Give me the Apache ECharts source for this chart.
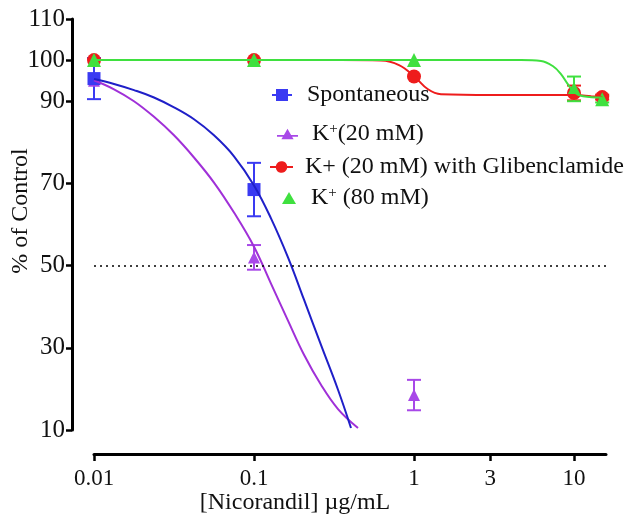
<!DOCTYPE html>
<html><head><meta charset="utf-8">
<script src="https://cdn.jsdelivr.net/npm/echarts@6/dist/echarts.min.js"></script>
<style>html,body{margin:0;padding:0;background:#fff}#c{width:629px;height:514px}</style>
</head><body><div id="c"></div>
<script>
// ---- tick labels ----
const xTickValues = [0.01, 0.1, 1, 3, 10];
const xTickLabels = ['0.01', '0.1', '1', '3', '10'];
const yTickValues = [10, 30, 50, 70, 90, 100, 110];

// ---- measured points (mean, SEM) ----
const spontX = [0.01, 0.1];
const spontY = [95.5, 68.5];
const spontErr = [5, 6.5];

const k20X = [0.01, 0.1, 1];
const k20Y = [95, 52, 18.5];
const k20Err = [0, 3, 3.7];

const glibX = [0.01, 0.1, 1, 10, 15];
const glibY = [100, 100, 96, 92, 91];
const glibErr = [0, 0, 0, 1.8, 0.6];

const k80X = [0.01, 0.1, 1, 10, 15];
const k80Y = [100, 100, 100, 93, 90.5];
const k80Err = [0, 0, 0, 3, 0.8];

// ---- fitted curves ----
const spontCurveX = [0.01, 0.01334, 0.01778, 0.02371, 0.03162, 0.04217, 0.05623, 0.07499, 0.1, 0.1277, 0.1631, 0.2054, 0.2622, 0.335, 0.4038];
const spontCurveY = [95.4, 94.2, 92.7, 90.9, 88.5, 85.6, 81.7, 76.6, 69.5, 61.5, 52.0, 41.7, 30.7, 19.8, 10.5];

const k20CurveX = [0.01, 0.01334, 0.01778, 0.02371, 0.03162, 0.04217, 0.05623, 0.07499, 0.1, 0.1277, 0.1631, 0.2054, 0.2622, 0.335, 0.4467];
const k20CurveY = [95.1, 92.9, 90.0, 86.2, 81.7, 76.3, 70.2, 62.9, 54.6, 45.6, 36.6, 28.3, 21.0, 15.1, 10.5];

const glibCurveX = [0.01, 0.35, 0.622, 0.806, 1, 1.223, 1.475, 3.03, 10.29, 12.8, 15];
const glibCurveY = [100, 100, 99.9, 98.8, 96.1, 92.9, 91.7, 91.5, 91.5, 91.2, 91.0];

const k80CurveX = [0.01, 4.66, 6.22, 7.40, 8.29, 9.17, 10, 11.4, 15];
const k80CurveY = [100, 100, 99.8, 98.5, 96.6, 94.1, 92.2, 91.2, 90.9];

// ---- styling ----
const FONT = 'Liberation Serif';
const C = {
  blue: '#3a3af2', blueLine: '#1f1fc8',
  purple: '#a848e8', purpleLine: '#a030d8',
  red: '#ee1c1c', green: '#3fe03f'
};

const L = Math.log10;
const pts = (xs, ys) => xs.map((x, i) => [L(x), ys[i]]);
const errPts = (xs, ys, es) => xs.map((x, i) => [L(x), ys[i], es[i]]);

function errSeries(name, xs, ys, es, color) {
  return {
    type: 'custom', name: name, silent: true,
    data: errPts(xs, ys, es),
    encode: { x: 0, y: 1 },
    renderItem: function (params, api) {
      const e = api.value(2);
      if (!e) return null;
      const x = api.value(0), y = api.value(1);
      const top = api.coord([x, y + e]);
      const bot = api.coord([x, y - e]);
      const w = 7;
      const st = { stroke: color, lineWidth: 2 };
      return {
        type: 'group', children: [
          { type: 'line', shape: { x1: top[0], y1: top[1], x2: bot[0], y2: bot[1] }, style: st },
          { type: 'line', shape: { x1: top[0] - w, y1: top[1], x2: top[0] + w, y2: top[1] }, style: st },
          { type: 'line', shape: { x1: bot[0] - w, y1: bot[1], x2: bot[0] + w, y2: bot[1] }, style: st }
        ]
      };
    }
  };
}
function curveSeries(name, xs, ys, color, extra) {
  return Object.assign({
    type: 'line', name: name, data: pts(xs, ys), smooth: 0.4,
    showSymbol: false, symbol: 'none', silent: true,
    lineStyle: { color: color, width: 2 }
  }, extra || {});
}
function markerSeries(name, xs, ys, symbol, size, color) {
  return {
    type: 'scatter', name: name, data: pts(xs, ys), symbol: symbol, symbolSize: size,
    itemStyle: { color: color, opacity: 1 }, silent: true
  };
}

const legendText = {
  'Spontaneous': '{t|Spontaneous}',
  'K20': '{t|K}{sup|+}{t|(20 mM)}',
  'Glib': '{t|K+ (20 mM) with Glibenclamide}',
  'K80': '{t|K}{sup|+}{t| (80 mM)}'
};
const rich = {
  t: { fontFamily: FONT, fontSize: 24, color: '#111' },
  sup: { fontFamily: FONT, fontSize: 15, color: '#111', verticalAlign: 'top' }
};
function legendAt(name, icon, left, top, w, h, gap) {
  return {
    data: [{ name: name, icon: icon }], left: left, top: top, padding: 0,
    itemWidth: w, itemHeight: h, selectedMode: false,
    formatter: n => legendText[n],
    textStyle: { fontFamily: FONT, fontSize: 24, color: '#111', rich: rich, padding: [0, 0, 0, gap] }
  };
}
const iconSquareLine = 'path://M0,5H4V0H16V5H20V7H16V12H4V7H0Z';
const iconTriLine = 'path://M0,7H7.9L12,0L16.1,7H24V9H17.25L19,12H5L6.75,9H0Z';
const iconCircleLine = 'path://M0,5H6.08A6,6 0 0 1 17.92,5H24V7H17.92A6,6 0 0 1 6.08,7H0Z';
const iconTri = 'path://M7,0L14,12H0Z';

const chart = echarts.init(document.getElementById('c'), null, { renderer: 'canvas' });
chart.setOption({
  animation: false,
  backgroundColor: '#fff',
  grid: { left: 94, right: 23, top: 19, bottom: 84, containLabel: false, outerBoundsMode: 'none' },
  xAxis: {
    type: 'value', min: -2, max: 1.2, offset: 24,
    name: '[Nicorandil] µg/mL', nameLocation: 'middle', nameGap: 37, nameMoveOverlap: false,
    nameTextStyle: { fontFamily: FONT, fontSize: 24, color: '#111', padding: [0, 110, 0, 0] },
    axisLine: { onZero: false, lineStyle: { color: '#000', width: 3 } },
    axisTick: { customValues: xTickValues.map(L), length: 7, lineStyle: { color: '#000', width: 2.5 } },
    axisLabel: {
      customValues: xTickValues.map(L), margin: 13,
      fontFamily: FONT, fontSize: 23, color: '#111',
      formatter: v => { const i = xTickValues.findIndex(t => Math.abs(L(t) - v) < 1e-6); return i >= 0 ? xTickLabels[i] : ''; }
    },
    splitLine: { show: false }
  },
  yAxis: {
    type: 'value', min: 10, max: 110, offset: 22,
    name: '% of Control', nameLocation: 'middle', nameGap: 39, nameMoveOverlap: false,
    nameTextStyle: { fontFamily: FONT, fontSize: 24, color: '#111', padding: [0, 0, 0, 27] },
    axisLine: { show: true, onZero: false, lineStyle: { color: '#000', width: 3 } },
    axisTick: { show: true, customValues: yTickValues, length: 6, lineStyle: { color: '#000', width: 2.5 } },
    axisLabel: { customValues: yTickValues, margin: 7, fontFamily: FONT, fontSize: 25, color: '#111' },
    splitLine: { show: false }
  },
  legend: [
    legendAt('Spontaneous', iconSquareLine, 272, 83, 20, 12, 10),
    legendAt('K20', iconTriLine, 277, 122, 21, 11, 9),
    legendAt('Glib', iconCircleLine, 270, 155, 23, 12, 7),
    legendAt('K80', iconTri, 282, 186, 14, 12, 10)
  ],
  series: [
    curveSeries('glibCurve', glibCurveX, glibCurveY, C.red, {
      markLine: {
        silent: true, symbol: 'none', label: { show: false },
        lineStyle: { type: [2, 4], color: '#000', width: 1.6 },
        data: [{ yAxis: 50 }]
      }
    }),
    errSeries('glibErr', glibX, glibY, glibErr, C.red),
    markerSeries('Glib', glibX, glibY, 'circle', 14, C.red),
    curveSeries('k80Curve', k80CurveX, k80CurveY, C.green),
    errSeries('k80Err', k80X, k80Y, k80Err, C.green),
    markerSeries('K80', k80X, k80Y, 'triangle', 14, C.green),
    curveSeries('k20Curve', k20CurveX, k20CurveY, C.purpleLine),
    errSeries('k20Err', k20X, k20Y, k20Err, C.purple),
    markerSeries('K20', k20X, k20Y, 'triangle', 12, C.purple),
    curveSeries('spontCurve', spontCurveX, spontCurveY, C.blueLine),
    errSeries('spontErr', spontX, spontY, spontErr, C.blue),
    markerSeries('Spontaneous', spontX, spontY, 'rect', 13, C.blue)
  ]
});
</script>
</body></html>
